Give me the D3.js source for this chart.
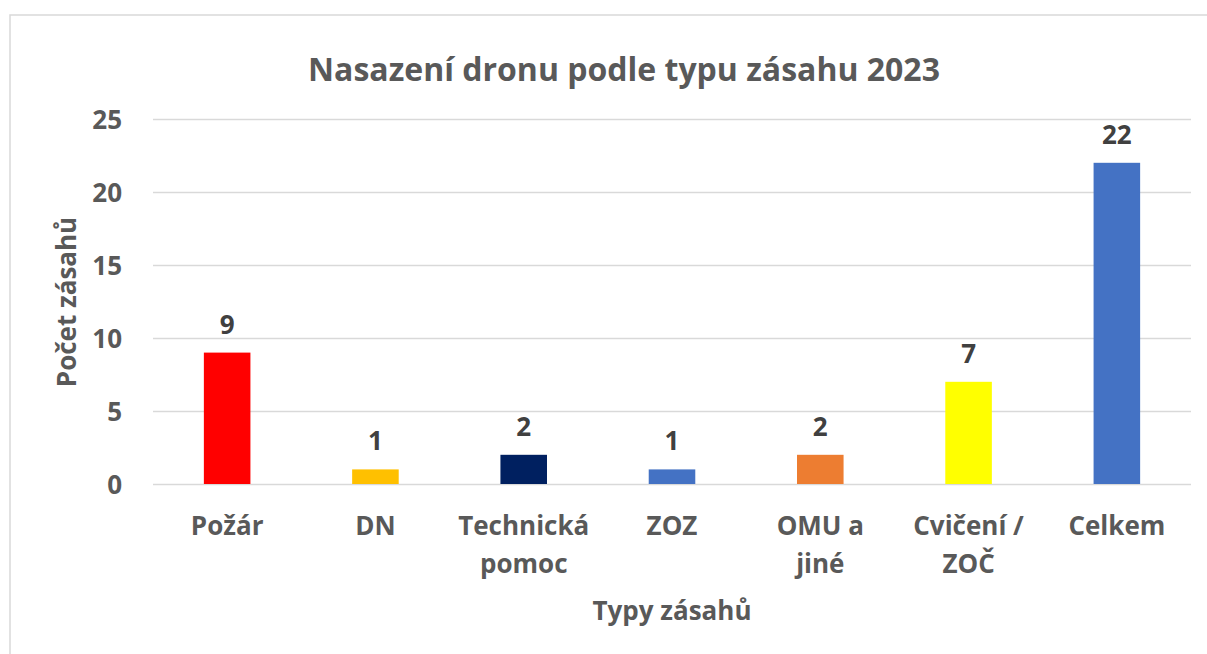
<!DOCTYPE html>
<html lang="cs">
<head>
<meta charset="utf-8">
<script src="https://d3js.org/d3.v7.min.js"></script>
<style>
  body { margin: 0; background: #fff; }
  text { font-family: "Open Sans", Calibri, sans-serif; font-weight: bold; }
</style>
</head>
<body>
<div id="chart"></div>
<script>
// data
const categories = [["Požár"], ["DN"], ["Technická", "pomoc"], ["ZOZ"], ["OMU a", "jiné"], ["Cvičení /", "ZOČ"], ["Celkem"]];
const values = [9, 1, 2, 1, 2, 7, 22];
const barColors = ["#ff0000", "#ffc000", "#002060", "#4472c4", "#ed7d31", "#ffff00", "#4472c4"];
const yTicks = [0, 5, 10, 15, 20, 25];

const W = 1207, H = 654;
const margin = { top: 119, right: 16, bottom: 170, left: 153 };
const width = 1191 - margin.left, height = 484 - margin.top;

const svg = d3.select("#chart").append("svg")
    .attr("width", W).attr("height", H);

// outer chart border (runs off the right and bottom edges)
svg.append("rect")
    .attr("x", 10).attr("y", 15)
    .attr("width", W + 20).attr("height", H + 20)
    .attr("fill", "#fff")
    .attr("stroke", "#d9d9d9").attr("stroke-width", 1.5);

const g = svg.append("g").attr("transform", `translate(${margin.left},${margin.top})`);

const x = d3.scaleBand()
    .domain(d3.range(categories.length))
    .range([0, width])
    .paddingInner(0.686).paddingOuter(0.343);

const y = d3.scaleLinear().domain([0, 25]).range([height, 0]);

// gridlines
g.append("g")
    .call(d3.axisLeft(y).tickValues(yTicks).tickSize(-width).tickFormat(""))
    .call(a => a.select(".domain").remove())
    .selectAll("line").attr("stroke", "#d9d9d9").attr("stroke-width", 1.5);

// y tick labels
g.append("g")
    .call(d3.axisLeft(y).tickValues(yTicks).tickSize(0).tickPadding(31))
    .call(a => a.select(".domain").remove())
    .selectAll("text")
    .attr("fill", "#595959").style("font-size", "26px").attr("dy", "0.35em");

// bars
g.selectAll(".bar")
    .data(values)
    .join("rect")
    .attr("class", "bar")
    .attr("x", (d, i) => x(i))
    .attr("y", d => y(d))
    .attr("width", x.bandwidth())
    .attr("height", d => height - y(d))
    .attr("fill", (d, i) => barColors[i]);

// value labels
g.selectAll(".val")
    .data(values)
    .join("text")
    .attr("class", "val")
    .attr("x", (d, i) => x(i) + x.bandwidth() / 2)
    .attr("y", d => y(d) - 19)
    .attr("text-anchor", "middle")
    .attr("fill", "#404040")
    .style("font-size", "26px")
    .text(d => d);

// category labels
const cat = g.selectAll(".cat")
    .data(categories)
    .join("text")
    .attr("class", "cat")
    .attr("text-anchor", "middle")
    .attr("fill", "#595959")
    .style("font-size", "26px")
    .attr("transform", (d, i) => `translate(${x(i) + x.bandwidth() / 2},${height + 51})`);
cat.selectAll("tspan")
    .data(d => d)
    .join("tspan")
    .attr("x", 0)
    .attr("dy", (d, j) => j === 0 ? 0 : 38)
    .text(d => d);

// axis titles
g.append("text")
    .attr("x", width / 2).attr("y", height + 136)
    .attr("text-anchor", "middle")
    .attr("fill", "#595959")
    .style("font-size", "26px")
    .text("Typy zásahů");

svg.append("text")
    .attr("transform", "translate(76,302) rotate(-90)")
    .attr("text-anchor", "middle")
    .attr("fill", "#595959")
    .style("font-size", "26px")
    .text("Počet zásahů");

// title
svg.append("text")
    .attr("x", 624).attr("y", 81)
    .attr("text-anchor", "middle")
    .attr("fill", "#595959")
    .style("font-size", "32px")
    .text("Nasazení dronu podle typu zásahu 2023");
</script>
</body>
</html>
